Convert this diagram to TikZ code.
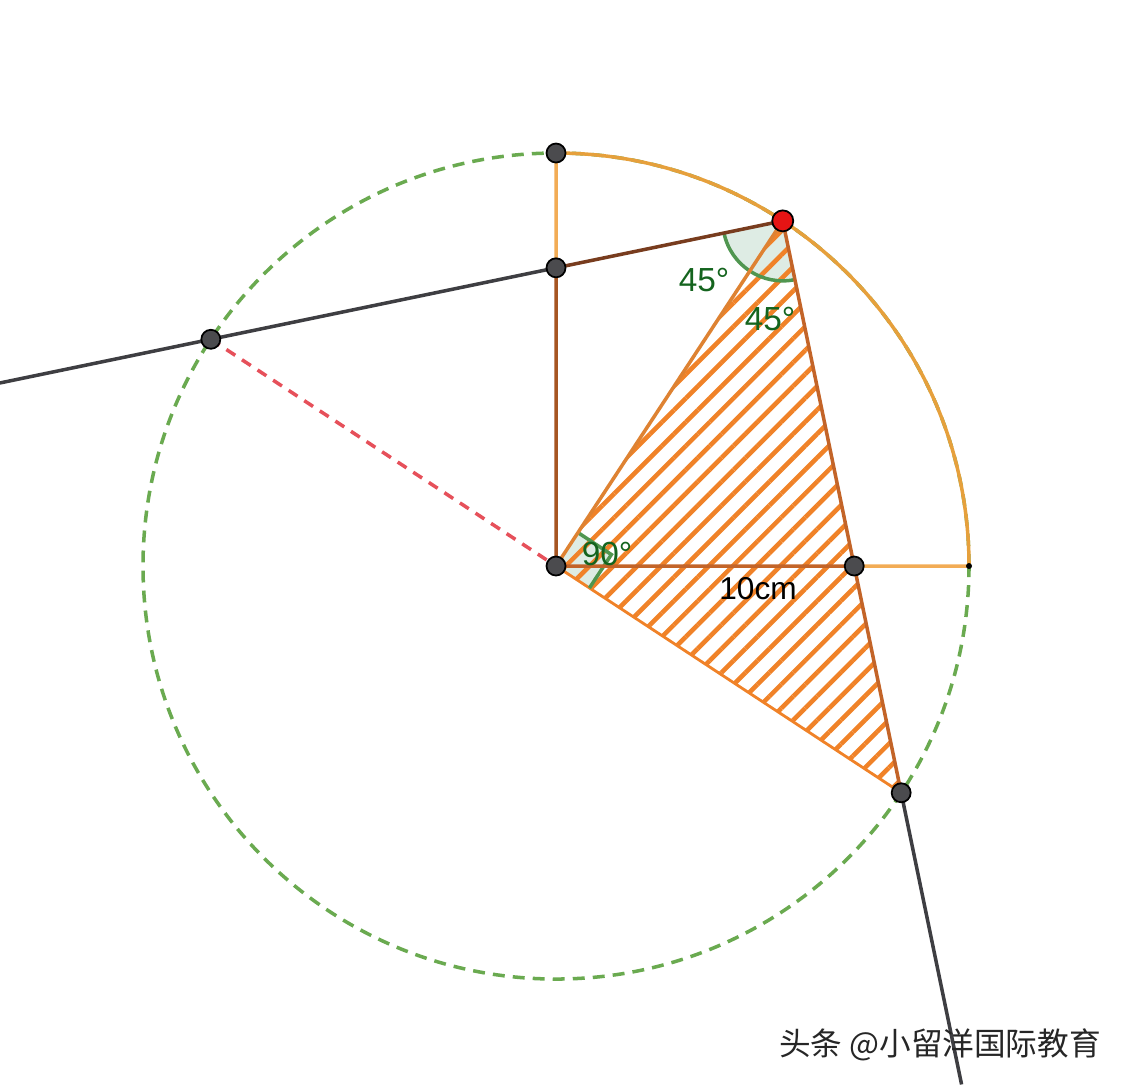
\documentclass[tikz,border=0pt]{standalone}
\usepackage{fontspec}
\setmainfont{Liberation Sans}
\newfontfamily\cjkfont{Noto Sans CJK SC}
\usetikzlibrary{calc,patterns.meta}
\definecolor{circgreen}{RGB}{106,170,80}
\definecolor{arcorange}{RGB}{230,160,60}
\definecolor{lightorange}{RGB}{242,172,85}
\definecolor{midorange}{RGB}{222,130,50}
\definecolor{hatchorange}{RGB}{240,130,40}
\definecolor{rustbrown}{RGB}{195,100,40}
\definecolor{darkbrown}{RGB}{120,60,30}
\definecolor{linegray}{RGB}{62,62,66}
\definecolor{dashred}{RGB}{230,80,90}
\definecolor{anggreen}{RGB}{20,100,30}
\definecolor{angarc}{RGB}{80,150,80}
\definecolor{angfill}{RGB}{222,236,228}
\definecolor{ptgray}{RGB}{75,75,78}
\definecolor{ptred}{RGB}{230,20,20}
\begin{document}
\begin{tikzpicture}[
  pt/.style={circle, fill=ptgray, draw=black, line width=0.5pt, inner sep=0pt, minimum size=0.19cm},
  anglab/.style={text=anggreen, font=\fontsize{9.5}{11}\selectfont},
  seg/.style={line width=1pt}
]
\useasboundingbox (0,0) rectangle (11.24,-10.84);
\def\rad{4.13}
% main points
\coordinate (O) at (5.56,-5.66);
\coordinate (P) at ($(O)+(56.7:\rad)$);
\coordinate (Q) at ($(O)+(-33.3:\rad)$);
\coordinate (S) at ($(O)+(146.7:\rad)$);
\coordinate (T) at ($(O)+(90:\rad)$);
\coordinate (E) at ($(O)+(0:\rad)$);
\coordinate (A) at (intersection of P--S and O--T);
\coordinate (B) at (intersection of P--Q and O--E);
\coordinate (Sx) at ($(P)!1.37!(S)$);
\coordinate (Qx) at ($(P)!1.51!(Q)$);
% circle and quarter arc
\draw[circgreen, line width=1pt, dash pattern=on 3.4pt off 2.3pt] (O) circle (\rad);
\draw[arcorange, line width=1pt] (T) arc (90:0:\rad);
% angle fills
\fill[angfill] (P) -- ($(P)+(191.7:0.6)$) arc (191.7:281.7:0.6) -- cycle;
\fill[angfill] (O) -- ($(O)+(56.7:0.4)$) -- ($(O)+(56.7:0.4)+(-33.3:0.4)$) -- ($(O)+(-33.3:0.4)$) -- cycle;
% hatched triangle
\fill[pattern={Lines[angle=45,distance=4.8pt,line width=1.3pt]}, pattern color=hatchorange] (O) -- (P) -- (Q) -- cycle;
\draw[hatchorange, line width=0.8pt] (O) -- (Q);
% angle marks
\draw[angarc, line width=1pt] ($(P)+(191.7:0.6)$) arc (191.7:281.7:0.6);
\draw[angarc, line width=1pt] ($(O)+(56.7:0.4)$) -- ($(O)+(56.7:0.4)+(-33.3:0.4)$) -- ($(O)+(-33.3:0.4)$);
% segments
\draw[dashred, line width=1pt, dash pattern=on 3pt off 2.3pt] (S) -- (O);
\draw[linegray, seg] (Sx) -- (A);
\draw[linegray, seg] (Q) -- (Qx);
\draw[darkbrown, seg] (A) -- (P);
\draw[lightorange, seg] (T) -- (A);
\draw[rustbrown!85!black, seg] (A) -- (O);
\draw[rustbrown, seg] (O) -- (B);
\draw[lightorange, seg] (B) -- (E);
\draw[midorange, seg] (P) -- (O);
\draw[rustbrown, seg] (P) -- (Q);
% labels
\node[anglab] (angA) at (7.04,-2.80) {45°};
\node[anglab] (angB) at (7.70,-3.19) {45°};
\node[anglab] (angO) at (6.07,-5.54) {90°};
\node[font=\fontsize{9}{11}\selectfont] (len) at (7.58,-5.89) {10cm};
% points
\fill (E) circle (0.03);
\node[pt] (nT) at (T) {};
\node[pt] (nA) at (A) {};
\node[pt] (nS) at (S) {};
\node[pt] (nO) at (O) {};
\node[pt] (nB) at (B) {};
\node[pt] (nQ) at (Q) {};
\node[pt, fill=ptred, minimum size=0.21cm] (nP) at (P) {};
% watermark
\node[font=\cjkfont\fontsize{9}{11}\selectfont, text=black!85] (mark) at (9.40,-10.45) {头条 @小留洋国际教育};
\end{tikzpicture}
\end{document}
